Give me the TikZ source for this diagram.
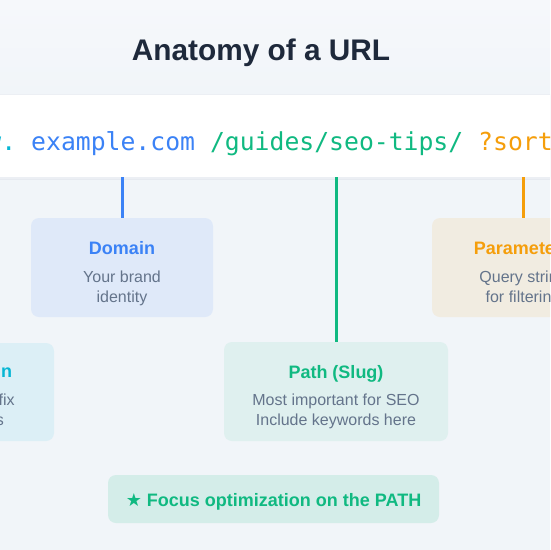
\documentclass[tikz,border=0pt]{standalone}
\usepackage{fontspec}
\setmainfont{Liberation Sans}
\newfontfamily\urlfont{DejaVu Sans Mono}
\newfontfamily\symfont{DejaVu Sans}
\definecolor{bgcol}{HTML}{F1F5F9}
\definecolor{bgtop}{HTML}{F6F8FB}
\definecolor{titlecol}{HTML}{1E293B}
\definecolor{cblue}{HTML}{3B82F6}
\definecolor{ccyan}{HTML}{06B6D4}
\definecolor{cgreen}{HTML}{10B981}
\definecolor{corange}{HTML}{F59E0B}
\definecolor{cgray}{HTML}{64748B}
\definecolor{shadowA}{HTML}{E6EAF0}
\definecolor{shadowB}{HTML}{ECEFF4}
\tikzset{
  card/.style={rounded corners=8pt, inner sep=0pt, draw=none},
  head/.style={anchor=base, inner sep=0pt, font=\fontsize{18}{20}\selectfont\bfseries},
  body/.style={anchor=base, inner sep=0pt, text=cgray, font=\fontsize{16}{20}\selectfont},
  conn/.style={line width=3pt},
}
\begin{document}
\begin{tikzpicture}[x=1pt,y=-1pt]
\useasboundingbox (0,0) rectangle (550,550);
\clip (0,0) rectangle (550,550);
\fill[bgcol] (0,0) rectangle (550,550);
\shade[top color=bgtop, bottom color=bgcol] (0,0) rectangle (550,95);

% title
\node[anchor=base, inner sep=0pt, text=titlecol, font=\fontsize{29.8}{32}\selectfont\bfseries] (title) at (261,60) {Anatomy of a URL};

% URL bar
\fill[shadowA] (-20,96) rectangle (570,180);
\fill[shadowB] (-20,94) rectangle (570,178.5);
\node[fill=white, minimum width=620pt, minimum height=82pt, inner sep=0pt] (bar) at (275,136) {};
\node[anchor=base west, inner sep=0pt, font=\urlfont\fontsize{24.75}{26}\selectfont] (url) at (-43.5,150)
  {\frenchspacing\textcolor{ccyan}{www.} \textcolor{cblue}{example.com} \textcolor{cgreen}{/guides/seo-tips/} \textcolor{corange}{?sort=price}};

% cards
\node[card, fill=cblue!10!bgcol, minimum width=182pt, minimum height=99pt] (domain) at (122,267.5) {};
\node[card, fill=corange!10!bgcol, minimum width=182pt, minimum height=99pt] (params) at (523,267.5) {};
\node[card, fill=ccyan!9!bgcol, minimum width=182pt, minimum height=98pt] (sub) at (-37,392) {};
\node[card, fill=cgreen!8!bgcol, minimum width=224pt, minimum height=99pt] (path) at (336,391.5) {};
\node[card, fill=cgreen!13!bgcol, minimum width=331pt, minimum height=48pt] (focus) at (273.5,499) {};

% connectors
\draw[conn, cblue] (bar.south -| domain.north) -- (domain.north);
\draw[conn, cgreen] (bar.south -| path.north) -- (path.north);
\draw[conn, corange] (bar.south -| params.north) -- (params.north);

% texts
\node[head, text=cblue] (domainT) at (122,254) {Domain};
\node[body] (domainA) at (122,282) {Your brand};
\node[body] (domainB) at (122,302) {identity};

\node[head, text=corange] (paramsT) at (523,254) {Parameters};
\node[body] (paramsA) at (523,282) {Query string};
\node[body] (paramsB) at (523,302) {for filtering};

\node[head, text=ccyan] (subT) at (-37,377) {Subdomain};
\node[body] (subA) at (-37,405) {Optional prefix};
\node[body] (subB) at (-37,425) {for sections};

\node[head, text=cgreen] (pathT) at (336,378) {Path (Slug)};
\node[body] (pathA) at (336,405) {Most important for SEO};
\node[body] (pathB) at (336,425) {Include keywords here};

\node[head, text=cgreen] (focusT) at (273.5,506) {{\symfont\mdseries ★} Focus optimization on the PATH};
\end{tikzpicture}
\end{document}
